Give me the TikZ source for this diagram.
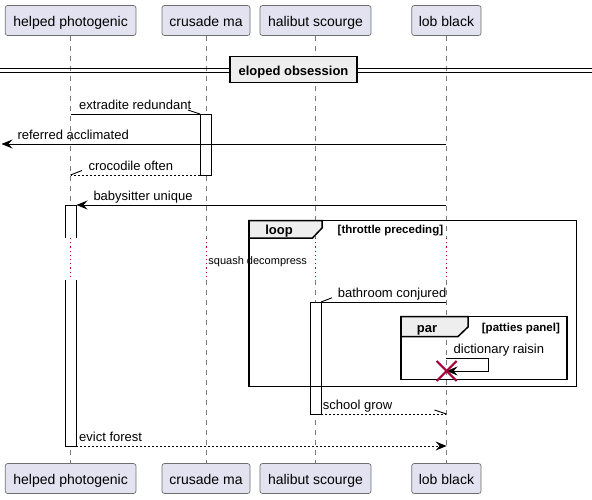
\documentclass[tikz,border=0pt]{standalone}
\usepackage{fontspec}
\setmainfont{Liberation Sans}
\usetikzlibrary{arrows.meta}
\definecolor{partfill}{HTML}{E2E2F0}
\definecolor{partdraw}{HTML}{6E6E6E}
\definecolor{lifegray}{HTML}{7A7A7A}
\definecolor{delayred}{HTML}{B0004A}
\definecolor{tabfill}{HTML}{EEEEEE}
\definecolor{destroyred}{HTML}{A80036}
\tikzset{
  partbox/.style={draw=partdraw, fill=partfill, rounded corners=2.5pt, line width=0.7pt,
    minimum height=30pt, inner sep=0pt, text height=13.4pt, text depth=1pt,
    font=\fontsize{14}{16}\selectfont},
  lifeline/.style={draw=lifegray, line width=0.6pt, dash pattern=on 5pt off 5pt},
  delayline/.style={draw=delayred, line width=1pt, dash pattern=on 1.2pt off 3pt},
  actbox/.style={draw=black, fill=white, line width=0.9pt},
  msg/.style={draw=black, line width=0.9pt},
  retmsg/.style={msg, dash pattern=on 2pt off 2pt},
  head/.style={-{Stealth[length=11pt,width=9pt,inset=4pt]}},
  msglabel/.style={anchor=base west, inner sep=0pt, font=\fontsize{13}{15}\selectfont},
  framebox/.style={draw=black, line width=1.5pt},
  tabbox/.style={draw=black, fill=tabfill, line width=1.5pt},
  boldlabel/.style={inner sep=0pt, font=\fontsize{13}{15}\selectfont\bfseries},
  guardlabel/.style={anchor=base west, inner sep=0pt, font=\fontsize{11.5}{13}\selectfont\bfseries},
}
\begin{document}
\begin{tikzpicture}[x=1pt, y=-1pt]
\useasboundingbox (0,0) rectangle (592,499);

% participants
\node[partbox, minimum width=130.7pt] (hpT) at (70.6,20.5) {helped photogenic};
\node[partbox, minimum width=88pt] (cmT) at (206,20.5) {crusade ma};
\node[partbox, minimum width=111pt] (hsT) at (315.5,20.5) {halibut scourge};
\node[partbox, minimum width=69.3pt] (lbT) at (446.4,20.5) {lob black};
\node[partbox, minimum width=130.7pt] (hpB) at (70.6,478.5) {helped photogenic};
\node[partbox, minimum width=88pt] (cmB) at (206,478.5) {crusade ma};
\node[partbox, minimum width=111pt] (hsB) at (315.5,478.5) {halibut scourge};
\node[partbox, minimum width=69.3pt] (lbB) at (446.4,478.5) {lob black};

% lifelines
\foreach \p/\q in {hp/hp, cm/cm, hs/hs, lb/lb}{
  \draw[lifeline] (\p T.south) -- (\p T.south |- 0,238);
  \draw[delayline] (\p T.south |- 0,238) -- (\p T.south |- 0,280);
  \draw[lifeline] (\p T.south |- 0,280) -- (\q B.north);
}

% divider
\draw[line width=1pt] (0,68.3) -- (592,68.3);
\draw[line width=1pt] (0,72) -- (592,72);
\node[draw=black, fill=tabfill, line width=1.5pt, minimum width=127pt, minimum height=26pt,
  inner sep=0pt] (div) at (293.5,69.5) {};
\node[boldlabel, anchor=base] (divtext) at (293.5,75) {eloped obsession};

% activations
\filldraw[actbox] (200,114) rectangle (211,175);
\filldraw[actbox] (310,302) rectangle (321,414);
\fill[white] (65,205) rectangle (76,238);
\fill[white] (65,280) rectangle (76,446);
\draw[actbox] (65,238) -- (65,205) -- (76,205) -- (76,238);
\draw[actbox] (65,280) -- (65,446) -- (76,446) -- (76,280);

% frames
\draw[framebox] (249,220.5) rectangle (576.5,386.5);
\filldraw[tabbox] (249,220.5) -- (322,220.5) -- (322,228) -- (312.5,238) -- (249,238) -- cycle;
\node[boldlabel, anchor=base] (looplabel) at (279,234.5) {loop};
\node[guardlabel] (loopguard) at (337.5,233.5) {[throttle preceding]};

\draw[framebox] (401,316.5) rectangle (567,379.5);
\filldraw[tabbox] (401,316.5) -- (468,316.5) -- (468,327) -- (458,336.5) -- (401,336.5) -- cycle;
\node[boldlabel, anchor=base] (parlabel) at (427,332) {par};
\node[guardlabel] (parguard) at (481.7,331.5) {[patties panel]};

% delay text
\node[inner sep=0pt, anchor=base, font=\fontsize{11}{13}\selectfont] (delay) at (257.7,264.5) {squash decompress};

% messages
\draw[msg] (70.5,114) -- (200,114);
\draw[msg] (200,114) -- (188,110);
\node[msglabel] (t1) at (79,109) {extradite redundant};

\draw[msg, head] (446.4,144) -- (1.5,144);
\node[msglabel] (t2) at (17.3,139.5) {referred acclimated};

\draw[retmsg] (200,175) -- (70.5,175);
\draw[msg] (70.5,175) -- (82,170.5);
\node[msglabel] (t3) at (88.3,170) {crocodile often};

\draw[msg, head] (446.4,205) -- (76.5,205);
\node[msglabel] (t4) at (93.3,200) {babysitter unique};

\draw[msg] (446.4,302) -- (321,302);
\draw[msg] (321,302) -- (332,297.8);
\node[msglabel] (t5) at (337.7,297) {bathroom conjured};

\draw[msg, head] (446.4,358) -- (488,358) -- (488,371) -- (446.6,371);
\node[msglabel] (t6) at (453.5,353.5) {dictionary raisin};
\draw[destroyred, line width=2pt] (436.6,361) -- (456.6,381);
\draw[destroyred, line width=2pt] (436.6,381) -- (456.6,361);

\draw[retmsg] (321,414) -- (446.4,414);
\draw[msg] (446.4,414) -- (434.5,410);
\node[msglabel] (t7) at (322.7,409.5) {school grow};

\draw[retmsg, head] (76,446) -- (446.6,446);
\node[msglabel] (t8) at (79,441) {evict forest};
\end{tikzpicture}
\end{document}
